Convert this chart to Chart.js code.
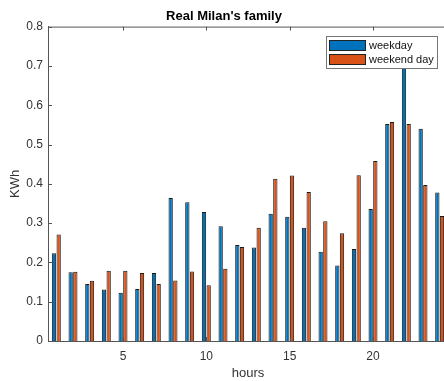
<!DOCTYPE html>
<html>
<head>
<meta charset="utf-8">
<script src="https://cdn.jsdelivr.net/npm/chart.js@4"></script>
<style>
  html, body { margin: 0; padding: 0; overflow: hidden; background: #fff; }
</style>
</head>
<body>
<canvas id="milan_family" width="460" height="381"></canvas>
<script>
const hours = ['1', '2', '3', '4', '5', '6', '7', '8', '9', '10', '11', '12',
  '13', '14', '15', '16', '17', '18', '19', '20', '21', '22', '23', '24'];
const weekday = [0.223, 0.175, 0.145, 0.131, 0.123, 0.132, 0.173, 0.364, 0.353, 0.328, 0.292, 0.244,
  0.238, 0.324, 0.316, 0.288, 0.227, 0.192, 0.234, 0.336, 0.552, 0.74, 0.540, 0.378];
const weekendDay = [0.271, 0.176, 0.153, 0.179, 0.179, 0.173, 0.145, 0.154, 0.177, 0.142, 0.184, 0.239,
  0.288, 0.413, 0.421, 0.379, 0.305, 0.274, 0.422, 0.458, 0.557, 0.552, 0.397, 0.318];
const shownHours = ['5', '10', '15', '20'];

const axisColor = '#333';
const font = 'Liberation Sans, Arial, Helvetica, sans-serif';

// matlab style box: top/right lines, inward ticks, legend inside the axes
const matlabBox = {
  id: 'matlabBox',
  afterDraw(chart) {
    const { ctx, chartArea: a, scales: { x, y } } = chart;
    ctx.save();
    ctx.strokeStyle = '#555';
    ctx.lineWidth = 1;
    ctx.beginPath();
    ctx.moveTo(a.left, a.top + 0.5);
    ctx.lineTo(a.right, a.top + 0.5);
    ctx.moveTo(a.right - 0.5, a.top);
    ctx.lineTo(a.right - 0.5, a.bottom);
    x.ticks.forEach((t, i) => {
      if (!t.label) return;
      const px = Math.round(x.getPixelForTick(i)) + 0.5;
      ctx.moveTo(px, a.bottom);
      ctx.lineTo(px, a.bottom - 4);
      ctx.moveTo(px, a.top);
      ctx.lineTo(px, a.top + 4);
    });
    y.ticks.forEach(t => {
      const py = Math.round(y.getPixelForValue(t.value)) + 0.5;
      ctx.moveTo(a.left, py);
      ctx.lineTo(a.left + 4, py);
      ctx.moveTo(a.right, py);
      ctx.lineTo(a.right - 4, py);
    });
    ctx.stroke();

    // legend
    const bx = 326, by = 36, bw = 111, bh = 32;
    ctx.fillStyle = '#fff';
    ctx.fillRect(bx, by, bw, bh);
    ctx.strokeStyle = '#777';
    ctx.strokeRect(bx + 0.5, by + 0.5, bw, bh);
    ctx.font = '11px ' + font;
    ctx.textBaseline = 'middle';
    chart.data.datasets.forEach((ds, i) => {
      const ry = by + 4 + i * 14;
      ctx.fillStyle = ds.backgroundColor;
      ctx.fillRect(bx + 3, ry, 37, 11);
      ctx.strokeStyle = '#222';
      ctx.strokeRect(bx + 3.5, ry + 0.5, 36, 10);
      ctx.fillStyle = '#111';
      ctx.fillText(ds.label, bx + 43, ry + 6);
    });
    ctx.restore();
  }
};

new Chart(document.getElementById('milan_family'), {
  type: 'bar',
  data: {
    labels: hours,
    datasets: [{
      label: 'weekday',
      data: weekday,
      backgroundColor: '#0072BD',
      borderColor: '#1a1a1a',
      borderWidth: 1,
      categoryPercentage: 0.56,
      barPercentage: 0.92
    }, {
      label: 'weekend day',
      data: weekendDay,
      backgroundColor: '#D95319',
      borderColor: '#1a1a1a',
      borderWidth: 1,
      categoryPercentage: 0.56,
      barPercentage: 0.92
    }]
  },
  options: {
    responsive: false,
    animation: false,
    layout: { padding: { top: 0, right: 12, left: 0, bottom: 0 } },
    plugins: {
      legend: { display: false },
      tooltip: { enabled: false },
      title: {
        display: true,
        text: "Real Milan's family",
        color: '#000',
        font: { family: font, size: 13, weight: 'bold' },
        padding: { top: 9, bottom: 2 }
      }
    },
    scales: {
      x: {
        offset: true,
        grid: { display: false, drawTicks: false, offset: false },
        border: { display: true, color: '#555' },
        ticks: {
          autoSkip: false,
          maxRotation: 0,
          color: axisColor,
          padding: 8,
          font: { family: font, size: 12 },
          callback: function (v, i) {
            const h = this.getLabelForValue(v);
            return shownHours.includes(h) ? h : '';
          }
        },
        title: {
          display: true,
          text: 'hours',
          color: axisColor,
          font: { family: font, size: 13 },
          padding: { top: 2, bottom: 0 }
        },
        afterFit: s => { s.height = 40; }
      },
      y: {
        min: 0,
        max: 0.8,
        grid: { display: false, drawTicks: false },
        border: { display: true, color: '#555' },
        ticks: {
          stepSize: 0.1,
          color: axisColor,
          padding: 5,
          font: { family: font, size: 12 },
        },
        title: {
          display: true,
          text: 'KWh',
          color: axisColor,
          font: { family: font, size: 13 },
          padding: { top: 8, bottom: 0 }
        },
        afterFit: s => { s.width = 48; }
      }
    }
  },
  plugins: [matlabBox]
});
</script>
</body>
</html>
